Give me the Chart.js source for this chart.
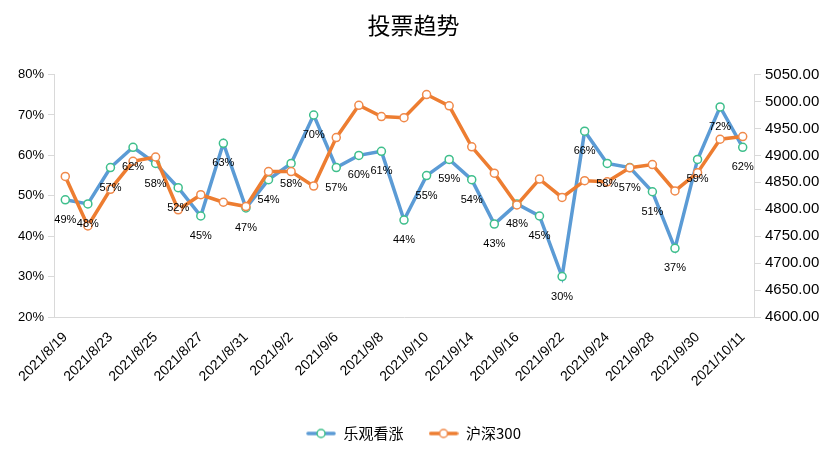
<!DOCTYPE html>
<html>
<head>
<meta charset="utf-8">
<script src="https://cdn.jsdelivr.net/npm/chart.js@4/dist/chart.umd.min.js"></script>
<style>
  html, body { margin: 0; padding: 0; background: #fff; }
  #wrap { width: 827px; height: 473px; }
</style>
</head>
<body>
<div id="wrap"><canvas id="c" width="827" height="473"></canvas></div>
<script>
const categories = ["2021/8/19","2021/8/20","2021/8/23","2021/8/24","2021/8/25","2021/8/26","2021/8/27","2021/8/30","2021/8/31","2021/9/1","2021/9/2","2021/9/3","2021/9/6","2021/9/7","2021/9/8","2021/9/9","2021/9/10","2021/9/13","2021/9/14","2021/9/15","2021/9/16","2021/9/17","2021/9/22","2021/9/23","2021/9/24","2021/9/27","2021/9/28","2021/9/29","2021/9/30","2021/10/8","2021/10/11"];
const bullishPct = [49,48,57,62,58,52,45,63,47,54,58,70,57,60,61,44,55,59,54,43,48,45,30,66,58,57,51,37,59,72,62];
const hs300 = [4861,4769,4837,4889,4897,4799,4827,4813,4805,4870,4870,4843,4933,4993,4972,4970,5013,4992,4916,4867,4808,4856,4822,4853,4851,4877,4883,4834,4868,4930,4935];
const seriesNames = ["乐观看涨","沪深300"];
const leftTicks = [20,30,40,50,60,70,80];
const rightTicks = [4600,4650,4700,4750,4800,4850,4900,4950,5000,5050];

const FONT = 'Arial, "Liberation Sans", "Noto Sans CJK SC", sans-serif';
const BLUE = '#5B9BD5', ORANGE = '#ED7D31', GREEN = '#3FBF8C', ORANGE_PT = '#F0894A';
const AXIS = '#D9D9D9';

function legendIcon(lineColor, ptColor) {
  const cv = document.createElement('canvas');
  cv.width = 30; cv.height = 12;
  const g = cv.getContext('2d');
  g.strokeStyle = lineColor; g.lineWidth = 3.5; g.lineCap = 'round';
  g.beginPath(); g.moveTo(2, 6); g.lineTo(28, 6); g.stroke();
  g.fillStyle = '#fff'; g.strokeStyle = ptColor; g.lineWidth = 1.5;
  g.beginPath(); g.arc(15, 6, 4, 0, Math.PI * 2); g.fill(); g.stroke();
  return cv;
}
const icons = [legendIcon(BLUE, GREEN), legendIcon(ORANGE, ORANGE_PT)];

const dataLabelPlugin = {
  id: 'dataLabels',
  afterDatasetsDraw(chart) {
    const ctx = chart.ctx;
    const meta = chart.getDatasetMeta(0);
    ctx.save();
    ctx.font = '11px ' + FONT;
    ctx.fillStyle = '#000';
    ctx.textAlign = 'center';
    ctx.textBaseline = 'middle';
    meta.data.forEach((pt, i) => {
      ctx.fillText(bullishPct[i] + '%', pt.x, pt.y + 20);
    });
    ctx.restore();
  }
};

new Chart(document.getElementById('c'), {
  type: 'line',
  data: {
    labels: categories,
    datasets: [
      {
        label: seriesNames[0], data: bullishPct, yAxisID: 'y', order: 1,
        borderColor: BLUE, borderWidth: 3.5, backgroundColor: BLUE,
        pointBackgroundColor: '#fff', pointBorderColor: GREEN, pointBorderWidth: 1.5, pointRadius: 4,
        tension: 0, fill: false
      },
      {
        label: seriesNames[1], data: hs300, yAxisID: 'y1', order: 0,
        borderColor: ORANGE, borderWidth: 3.5, backgroundColor: ORANGE,
        pointBackgroundColor: '#fff', pointBorderColor: ORANGE_PT, pointBorderWidth: 1.5, pointRadius: 4,
        tension: 0, fill: false
      }
    ]
  },
  options: {
    responsive: false,
    animation: false,
    devicePixelRatio: 1,
    layout: { padding: { left: 0, right: 0, top: 0, bottom: 22 } },
    plugins: {
      title: {
        display: true, text: '投票趋势', color: '#000',
        font: { family: '"Noto Sans CJK SC", sans-serif', size: 23, weight: 'normal', lineHeight: 1.2 },
        padding: { top: 11, bottom: 36 }
      },
      legend: {
        display: true, position: 'bottom',
        labels: {
          usePointStyle: true, pointStyleWidth: 30, boxHeight: 12,
          color: '#000', padding: 25,
          font: { family: '"Noto Sans CJK SC", ' + FONT, size: 15 },
          generateLabels(chart) {
            const items = Chart.defaults.plugins.legend.labels.generateLabels(chart);
            items.sort((a, b) => a.datasetIndex - b.datasetIndex);
            items.forEach(it => { it.pointStyle = icons[it.datasetIndex]; });
            return items;
          }
        }
      },
      tooltip: { enabled: false }
    },
    scales: {
      x: {
        offset: true,
        grid: { display: false },
        border: { display: true, color: AXIS, width: 1 },
        ticks: {
          autoSkip: false, maxRotation: 45, minRotation: 45, color: '#000', padding: 4,
          font: { family: FONT, size: 14 },
          callback(v, i) { return i % 2 === 0 ? categories[i] : null; }
        },
        afterFit(s) { s.height = 84; }
      },
      y: {
        position: 'left', min: 20, max: 80,
        grid: { drawOnChartArea: false, drawTicks: true, tickLength: 6, color: AXIS },
        border: { display: true, color: AXIS, width: 1 },
        ticks: {
          stepSize: 10, color: '#000', padding: 4,
          font: { family: FONT, size: 13 },
          callback(v) { return leftTicks.includes(v) ? v + '%' : null; }
        },
        afterFit(s) { s.width = 54; }
      },
      y1: {
        position: 'right', min: 4600, max: 5050,
        grid: { drawOnChartArea: false, drawTicks: true, tickLength: 7, color: AXIS },
        border: { display: true, color: AXIS, width: 1 },
        ticks: {
          stepSize: 50, color: '#000', padding: 4,
          font: { family: FONT, size: 15 },
          callback(v) { return rightTicks.includes(v) ? v.toFixed(2) : null; }
        },
        afterFit(s) { s.width = 73; }
      }
    }
  },
  plugins: [dataLabelPlugin]
});
</script>
</body>
</html>
